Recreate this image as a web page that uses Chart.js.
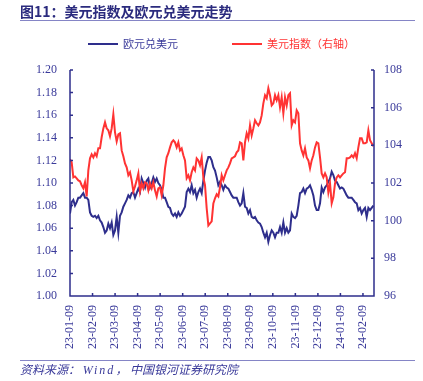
<!DOCTYPE html>
<html>
<head>
<meta charset="utf-8">
<script src="https://cdn.jsdelivr.net/npm/chart.js@4.4.1/dist/chart.umd.min.js"></script>
<style>
  body { margin: 0; background: #fff; }
  #wrap { position: relative; width: 423px; height: 381px; overflow: hidden; }
  #chart { position: absolute; left: 0; top: 0; }
  .title { position: absolute; left: 20px; top: 4px; font: bold 14px/14px "Noto Sans CJK SC", sans-serif; color: #2b2b7e; white-space: nowrap; }
  .rule { position: absolute; left: 20px; width: 395px; border-top: 1px solid #8585c6; }
  .legend { position: absolute; top: 37px; font: 11px/12px "Noto Sans CJK SC", sans-serif; white-space: nowrap; }
  .legend i { display: inline-block; width: 30px; height: 2px; vertical-align: middle; margin-right: 5px; position: relative; top: -1px; }
  .source { position: absolute; left: 20px; top: 363px; font: italic 12px/12px "Noto Sans CJK SC", serif; color: #3a3a9a; white-space: nowrap; }
  .source b { font: italic 12px "Liberation Serif", serif; letter-spacing: 2px; font-weight: normal; }
</style>
</head>
<body>
<div id="wrap">
  <canvas id="chart" width="423" height="381"></canvas>
  <div class="title">图11：美元指数及欧元兑美元走势</div>
  <div class="rule" style="top:20px"></div>
  <div class="legend" style="left:88px;color:#3a3a9a"><i style="background:#2e2e8c"></i>欧元兑美元</div>
  <div class="legend" style="left:232px;color:#ff3333"><i style="background:#ff3333"></i>美元指数（右轴）</div>
  <div class="rule" style="top:360px"></div>
  <div class="source">资料来源： <b>Wind</b>， 中国银河证券研究院</div>
</div>
<script>
const tickLabels = ['23-01-09', '23-02-09', '23-03-09', '23-04-09', '23-05-09', '23-06-09', '23-07-09',
  '23-08-09', '23-09-09', '23-10-09', '23-11-09', '23-12-09', '24-01-09', '24-02-09'];

// 欧元兑美元 (left axis)
const eurusd = [
  1.073, 1.083, 1.085, 1.080, 1.083, 1.087, 1.087, 1.089, 1.091, 1.087,
  1.087, 1.085, 1.074, 1.071, 1.070, 1.071, 1.069, 1.071, 1.067, 1.065,
  1.061, 1.056, 1.058, 1.064, 1.060, 1.065, 1.054, 1.058, 1.070, 1.056,
  1.071, 1.074, 1.079, 1.082, 1.085, 1.089, 1.087, 1.091, 1.092, 1.087,
  1.091, 1.095, 1.092, 1.104, 1.100, 1.096, 1.102, 1.104, 1.096, 1.100,
  1.105, 1.101, 1.104, 1.100, 1.098, 1.094, 1.087, 1.087, 1.083, 1.079,
  1.078, 1.073, 1.071, 1.073, 1.070, 1.074, 1.071, 1.073, 1.076, 1.079,
  1.092, 1.095, 1.092, 1.098, 1.091, 1.094, 1.087, 1.092, 1.095, 1.091,
  1.102, 1.111, 1.118, 1.123, 1.123, 1.120, 1.114, 1.111, 1.105, 1.098,
  1.101, 1.098, 1.094, 1.098, 1.096, 1.095, 1.092, 1.089, 1.087, 1.087,
  1.087, 1.083, 1.080, 1.082, 1.091, 1.079, 1.078, 1.073, 1.076, 1.070,
  1.069, 1.070, 1.067, 1.065, 1.064, 1.061, 1.056, 1.052, 1.056, 1.048,
  1.054, 1.058, 1.056, 1.052, 1.056, 1.056, 1.061, 1.056, 1.065, 1.056,
  1.060, 1.056, 1.058, 1.073, 1.070, 1.069, 1.071, 1.080, 1.091, 1.092,
  1.095, 1.091, 1.095, 1.096, 1.098, 1.094, 1.089, 1.080, 1.076, 1.076,
  1.082, 1.096, 1.092, 1.096, 1.098, 1.101, 1.104, 1.110, 1.107, 1.102,
  1.101, 1.098, 1.095, 1.096, 1.095, 1.092, 1.089, 1.087, 1.087, 1.087,
  1.085, 1.083, 1.082, 1.076, 1.078, 1.073, 1.076, 1.078, 1.070, 1.078,
  1.076, 1.078, 1.080
];

// 美元指数 (right axis)
const dxy = [
  103.26, 103.10, 102.30, 102.35, 102.25, 102.14, 102.09, 101.88, 101.72, 102.04,
  101.29, 102.67, 103.31, 103.52, 103.36, 103.58, 103.42, 103.84, 103.84, 104.43,
  104.90, 105.22, 104.90, 104.80, 104.48, 104.90, 105.65, 104.69, 104.21, 104.58,
  104.64, 103.73, 103.42, 103.04, 102.83, 102.41, 102.57, 102.14, 101.56, 101.82,
  102.14, 102.51, 101.56, 101.98, 101.72, 102.04, 101.98, 101.61, 101.98, 101.72,
  102.04, 101.61, 101.29, 101.72, 101.77, 101.35, 101.88, 102.78, 103.36, 103.58,
  103.89, 104.16, 104.27, 104.16, 103.89, 104.16, 103.73, 103.84, 103.47, 103.20,
  102.25, 102.41, 102.14, 102.57, 102.83, 102.67, 103.31, 103.20, 102.94, 103.36,
  102.30, 101.88, 100.66, 99.75, 99.86, 99.96, 100.92, 101.19, 101.40, 101.29,
  101.77, 102.41, 102.14, 102.41, 102.67, 102.83, 103.04, 103.31, 103.36, 103.42,
  103.63, 103.73, 104.16, 104.11, 103.20, 104.16, 104.64, 104.37, 105.06, 104.53,
  104.90, 105.33, 105.17, 105.06, 105.22, 105.59, 106.23, 106.66, 106.50, 107.03,
  106.66, 106.12, 106.23, 106.66, 106.39, 106.66, 106.02, 106.55, 105.70, 106.55,
  106.12, 106.66, 106.76, 105.06, 105.33, 105.22, 105.86, 105.70, 104.11, 103.73,
  103.47, 103.84, 103.36, 103.20, 102.78, 103.20, 103.47, 103.89, 104.16, 104.11,
  103.36, 102.51, 102.30, 102.51, 102.30, 101.50, 101.98, 100.92, 101.24, 101.98,
  102.30, 102.41, 102.30, 102.41, 102.51, 102.57, 103.31, 103.31, 103.36, 103.47,
  103.36, 103.58, 103.31, 103.89, 104.37, 104.37, 104.11, 104.11, 104.16, 104.80,
  104.27, 104.11, 103.95
];

// samples are evenly spaced; about 13.5 samples per month on the x axis
const samplesPerMonth = 13.52;
const xMax = 13.49;

const AXIS = '#2e2e8c';
const TEXT = '#3a3a9a';
const RED = '#ff3333';

const toPoints = arr => arr.map((v, i) => ({ x: i / samplesPerMonth, y: v }));

// axis lines with inward tick marks
const axisLines = {
  id: 'axisLines',
  afterDraw(chart) {
    const { ctx, chartArea: a, scales } = chart;
    ctx.save();
    ctx.strokeStyle = AXIS;
    ctx.lineWidth = 1.5;
    ctx.beginPath();
    ctx.moveTo(a.left, a.top);
    ctx.lineTo(a.left, a.bottom);
    ctx.lineTo(a.right, a.bottom);
    ctx.lineTo(a.right, a.top);
    scales.y.ticks.forEach(t => {
      const y = scales.y.getPixelForValue(t.value);
      ctx.moveTo(a.left, y);
      ctx.lineTo(a.left + 3, y);
    });
    scales.y1.ticks.forEach(t => {
      const y = scales.y1.getPixelForValue(t.value);
      ctx.moveTo(a.right, y);
      ctx.lineTo(a.right - 3, y);
    });
    scales.x.ticks.forEach(t => {
      const x = scales.x.getPixelForValue(t.value);
      ctx.moveTo(x, a.bottom);
      ctx.lineTo(x, a.bottom - 3);
    });
    ctx.stroke();
    ctx.restore();
  }
};

const tickFont = { family: 'Liberation Serif', size: 12 };

new Chart(document.getElementById('chart'), {
  type: 'line',
  data: {
    datasets: [
      {
        label: '欧元兑美元',
        data: toPoints(eurusd),
        yAxisID: 'y',
        borderColor: AXIS,
        borderWidth: 2,
        pointRadius: 0,
        order: 1
      },
      {
        label: '美元指数（右轴）',
        data: toPoints(dxy),
        yAxisID: 'y1',
        borderColor: RED,
        borderWidth: 2,
        pointRadius: 0,
        order: 0
      }
    ]
  },
  options: {
    responsive: false,
    animation: false,
    layout: { padding: { top: 70, left: 0, right: 0, bottom: 0 } },
    plugins: { legend: { display: false }, tooltip: { enabled: false } },
    scales: {
      x: {
        type: 'linear',
        min: 0,
        max: xMax,
        grid: { display: false, drawTicks: false },
        border: { display: false },
        afterBuildTicks: s => { s.ticks = tickLabels.map((_, k) => ({ value: k })); },
        afterFit: s => { s.height = 85; },
        ticks: {
          autoSkip: false,
          minRotation: 90,
          maxRotation: 90,
          padding: 9,
          color: TEXT,
          font: tickFont,
          callback: v => tickLabels[v]
        }
      },
      y: {
        position: 'left',
        min: 1.0,
        max: 1.2,
        grid: { display: false, drawTicks: false },
        border: { display: false },
        afterFit: s => { s.width = 70; },
        ticks: { stepSize: 0.02, padding: 13, color: TEXT, font: tickFont, callback: v => v.toFixed(2) }
      },
      y1: {
        position: 'right',
        min: 96,
        max: 108,
        grid: { display: false, drawTicks: false },
        border: { display: false },
        afterFit: s => { s.width = 49; },
        ticks: { stepSize: 2, padding: 10, color: TEXT, font: tickFont }
      }
    }
  },
  plugins: [axisLines]
});
</script>
</body>
</html>
